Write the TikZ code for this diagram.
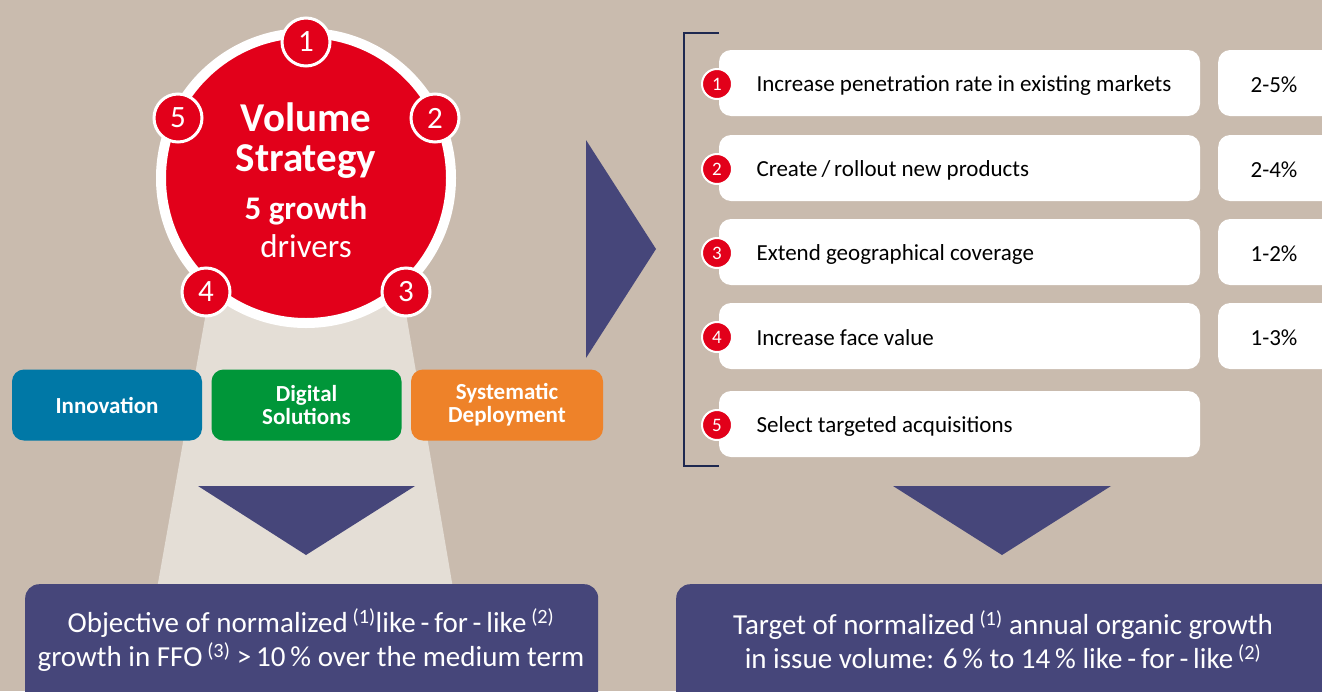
\documentclass[tikz,border=0pt]{standalone}
\usepackage{fontspec}
\setmainfont{Carlito}
\usetikzlibrary{positioning}
\definecolor{vsBack}{RGB}{201,187,174}
\definecolor{vsCone}{RGB}{228,222,214}
\definecolor{vsRed}{RGB}{226,0,26}
\definecolor{vsNavy}{RGB}{70,70,122}
\definecolor{vsLine}{RGB}{30,40,80}
\definecolor{vsBlue}{RGB}{0,120,166}
\definecolor{vsGreen}{RGB}{0,150,57}
\definecolor{vsOrange}{RGB}{238,130,41}
\newcommand{\fs}[1]{\fontsize{#1}{#1}\selectfont}

\begin{document}
\begin{tikzpicture}[x=1pt, y=-1pt]
  \useasboundingbox (0,0) rectangle (1322,691);
  \fill[vsBack] (0,0) rectangle (1322,691);

  % Light cone below the circle
  \fill[vsCone] (210,290) -- (402,290) -- (455,600) -- (155,600) -- cycle;

  % Volume strategy circle
  \node[circle, fill=vsRed, draw=white, line width=10pt, minimum size=290pt] (vol) at (306,178) {};
  \node[text=white, font=\bfseries\fs{41}] (volA) at (306,117) {Volume};
  \node[text=white, font=\bfseries\fs{41}] (volB) at (306,162) {Strategy};
  \node[text=white, font=\bfseries\fs{33}] (volC) at (306,211) {5 growth};
  \node[text=white, font=\fs{33}] (volD) at (306,246) {drivers};
  \foreach \n/\px/\py in {1/306/42, 2/435/118, 3/406/292, 4/206/292, 5/178/118}
    \node[circle, fill=vsRed, draw=white, line width=3pt, minimum size=48pt,
          text=white, font=\fs{31}] (drv\n) at (\px,\py) {\n};

  % Levers
  \node[rounded corners=12pt, fill=vsBlue, minimum width=190pt, minimum height=71pt,
        text=white, font=\bfseries\fs{23}, align=center] (innov) at (107,405) {Innovation};
  \node[rounded corners=12pt, fill=vsGreen, minimum width=190pt, minimum height=71pt,
        text=white, font=\bfseries\fs{23}, align=center] (digit) at (306.5,405) {Digital\\Solutions};
  \node[rounded corners=12pt, fill=vsOrange, minimum width=192pt, minimum height=71pt,
        text=white, font=\bfseries\fs{23}, align=center] (deploy) at (507,405) {Systematic\\Deployment};

  % Arrows
  \fill[vsNavy] (198,486) -- (415,486) -- (306,555) -- cycle;
  \fill[vsNavy] (893,486) -- (1111,486) -- (1002,555) -- cycle;
  \fill[vsNavy] (586,140) -- (656,249) -- (586,358) -- cycle;

  % Targets
  \node[fill=vsNavy, rounded corners=14pt, minimum width=573pt, minimum height=130pt,
        anchor=north west] (goalL) at (25,584) {};
  \node[text=white, font=\fs{29}, align=center] (goalLtxt) at (311,640)
    {Objective of normalized\,\textsuperscript{(1)}like\,-\,for\,-\,like\,\textsuperscript{(2)}\\[5pt]
     growth in FFO\,\textsuperscript{(3)} >\,10\,\% over the medium term};
  \node[fill=vsNavy, rounded corners=14pt, minimum width=680pt, minimum height=130pt,
        anchor=north west] (goalR) at (676,584) {};
  \node[text=white, font=\fs{29}, align=center] (goalRtxt) at (1003,640)
    {Target of normalized\,\textsuperscript{(1)} annual organic growth\\[5pt]
     in issue volume: 6\,\% to 14\,\% like\,-\,for\,-\,like\,\textsuperscript{(2)}};

  % Growth drivers list
  \draw[vsLine, line width=2pt] (719,33) -- (684,33) -- (684,466) -- (719,466);
  \foreach \n/\yy/\txt in {1/83/{Increase penetration rate in existing markets},
                           2/168/{Create\,/\,rollout new products},
                           3/252/{Extend geographical coverage},
                           4/336/{Increase face value},
                           5/424/{Select targeted acquisitions}} {
    \node[fill=white, rounded corners=12pt, minimum width=481pt, minimum height=66pt] (row\n) at (959.5,\yy) {};
    \node[anchor=west, font=\fs{23}] (txt\n) at (753,\yy+2) {\txt};
    \node[circle, fill=vsRed, draw=white, line width=2pt, minimum size=30pt,
          text=white, font=\fs{19}] (num\n) at (717,\yy+1) {\n};
  }
  \foreach \n/\yy/\pct in {1/83/2-5\%, 2/168/2-4\%, 3/252/1-2\%, 4/336/1-3\%} {
    \node[fill=white, rounded corners=12pt, minimum width=130pt, minimum height=66pt,
          anchor=west] (pct\n) at (1218,\yy) {};
    \node[font=\fs{23}] (pctTxt\n) at (1274,\yy+2) {\pct};
  }
\end{tikzpicture}
\end{document}
